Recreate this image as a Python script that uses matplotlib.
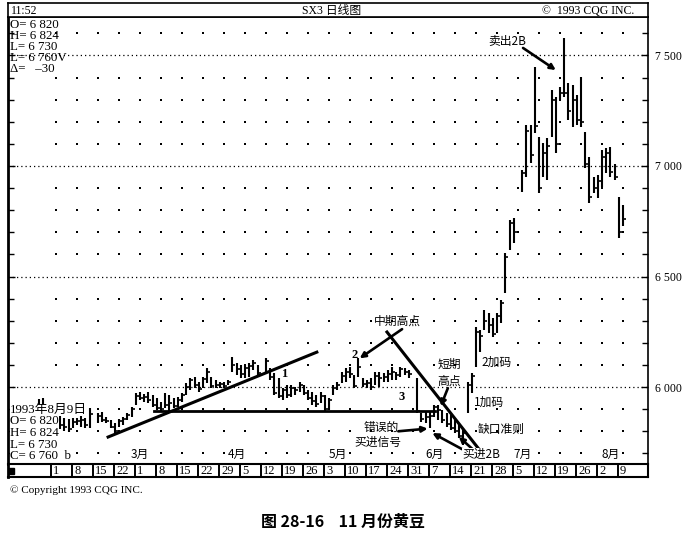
import numpy as np
import matplotlib.pyplot as plt

plt.rcParams['font.family'] = ['Liberation Serif', 'Noto Sans CJK SC']
CJK = ['Noto Sans CJK SC', 'Liberation Serif']

nan = np.nan

# daily bars, trading day index -4 .. 135 (0 = Feb 1), nan = no trading
highs = [5946, 5950, 5910, 5900, 5880, 5870, 5860, 5855, 5860, 5860,
         5882, 5860, 5905, nan, 5882, 5887, 5864, 5851, 5837, 5855,
         5864, 5882, 5910, 5973, 5977, 5968, 5977, 5964, 5950, 5932,
         5973, 5964, 5950, 5955, 5973, 6018, 6041, 6045, 6023, 6045,
         6086, 6045, 6032, 6023, 6023, 6032, 6136, 6109, 6100, 6100,
         6109, 6122, 6100, nan, 6131, 6086, 6063, 6041, 5995, 6009,
         6009, 6000, 6023, 6009, 5986, 5977, 5964, 5977, 5964, 5950,
         6009, 6023, 6068, 6086, 6091, 6054, 6131, 6041, 6032, 6041,
         6068, 6068, 6063, 6077, 6091, 6068, 6091, 6086, 6077, nan,
         6041, 5882, 5887, 5887, 5919, 5919, 5896, 5882, 5873, 5860,
         5837, 5814, 6023, 6063, 6272, 6258, 6348, 6335, 6312, 6335,
         6394, 6606, 6756, 6765, nan, 6982, 7186, 7186, 7448, 7131,
         7104, 7127, 7344, 7312, 7358, 7579, 7376, 7367, 7321, 7403,
         7154, 7041, 6950, 6959, 7072, 7081, 7086, 7009, 6860, 6824]
lows = [5870, 5880, 5860, 5840, 5820, 5810, 5800, 5796, 5814, 5828,
        5819, 5814, 5814, nan, 5837, 5842, 5837, 5814, 5792, 5819,
        5828, 5851, 5864, 5919, 5941, 5932, 5928, 5910, 5896, 5887,
        5905, 5887, 5905, 5910, 5932, 5964, 5986, 5995, 5977, 5995,
        6018, 5995, 5995, 5995, 5995, 6009, 6068, 6054, 6041, 6041,
        6045, 6077, 6054, nan, 6068, 6032, 5964, 5950, 5941, 5950,
        5955, 5964, 5977, 5964, 5941, 5919, 5910, 5928, 5887, 5896,
        5964, 5986, 6018, 6023, 6041, 5995, 6045, 6000, 5995, 5986,
        6009, 6000, 6023, 6023, 6032, 6032, 6045, 6054, 6041, nan,
        5882, 5842, 5837, 5814, 5864, 5851, 5837, 5819, 5805, 5792,
        5769, 5738, 5882, 5973, 6091, 6158, 6258, 6244, 6226, 6244,
        6290, 6425, 6620, 6652, nan, 6882, 6950, 7014, 7149, 6878,
        6950, 6937, 7131, 7059, 7299, 7312, 7208, 7177, 7186, 7177,
        6991, 6833, 6878, 6855, 6905, 6968, 6950, 6937, 6674, 6730]
closes = [5920, 5900, 5880, 5860, 5850, 5830, 5820, 5810, 5840, 5845,
          5850, 5830, 5880, nan, 5870, 5850, 5845, 5820, 5800, 5845,
          5855, 5875, 5900, 5960, 5950, 5955, 5940, 5920, 5905, 5900,
          5920, 5930, 5915, 5940, 5965, 6000, 6030, 6010, 5990, 6035,
          6070, 6005, 6010, 6015, 6005, 6025, 6100, 6080, 6060, 6085,
          6095, 6110, 6065, nan, 6120, 6045, 5975, 5960, 5985, 5965,
          5995, 5985, 6010, 5975, 5950, 5935, 5925, 5960, 5900, 5940,
          5995, 6010, 6050, 6070, 6060, 6005, 6090, 6015, 6020, 6000,
          6050, 6040, 6045, 6060, 6070, 6055, 6080, 6070, 6060, nan,
          5890, 5855, 5865, 5870, 5910, 5895, 5850, 5835, 5815, 5800,
          5780, 5790, 6010, 6050, 6250, 6230, 6300, 6280, 6240, 6320,
          6380, 6590, 6740, 6700, nan, 6970, 7160, 7050, 7180, 6900,
          7060, 7090, 7300, 7100, 7330, 7330, 7250, 7300, 7210, 7200,
          7010, 6860, 6900, 6930, 7040, 7060, 6975, 6950, 6700, 6760]
days = np.arange(-4, 136)

week_days = np.arange(0, 136, 5)
week_labels = ['1', '8', '15', '22', '1', '8', '15', '22', '29', '5', '12', '19', '26', '3',
               '10', '17', '24', '31', '7', '14', '21', '28', '5', '12', '19', '26', '2', '9']
month_days = [20, 43, 67, 90, 111, 132]
month_labels = ['3月', '4月', '5月', '6月', '7月', '8月']
price_ticks = [6000, 6500, 7000, 7500]
price_tick_labels = ['6 000', '6 500', '7 000', '7 500']
grid_levels = [p for p in range(5700, 7700, 100) if p % 500]

W, H = 683, 535
fig = plt.figure(figsize=(W / 100, H / 100), dpi=100)


def box(l, t, r, b):
    return [l / W, 1 - b / H, (r - l) / W, (b - t) / H]


def ftext(x, y, s, **kw):
    fig.text(x / W, 1 - y / H, s, va='center', **kw)


XL = (-11.43, 140.95)

# price panel
ax = fig.add_axes(box(8, 17, 648, 464))
ax.set_xlim(*XL)
ax.set_ylim(5652, 7674)
ax.vlines(days, lows, highs, color='k', lw=1.5)
ax.hlines(closes, days, days + 0.7, color='k', lw=1.2)

for v in price_ticks:
    ax.axhline(v, color='k', lw=0.9, ls=(0, (1, 2.4)), zorder=0)
for lv in grid_levels:
    ax.scatter(week_days, [lv] * len(week_days), s=1.0, c='k', marker='s', lw=0, zorder=0)

ax.set_xticks([])
ax.yaxis.tick_right()
ax.set_yticks(price_ticks, price_tick_labels)
ax.set_yticks(grid_levels, minor=True)
ax.tick_params(axis='y', which='both', direction='in', left=True, right=True,
               labelleft=False, labelright=True, width=1, labelsize=8.5, pad=5)
ax.tick_params(axis='y', which='major', length=5)
ax.tick_params(axis='y', which='minor', length=4)
for s in ax.spines.values():
    s.set_linewidth(1.2)
ax.spines['left'].set_linewidth(2)

for d, m in zip(month_days, month_labels):
    ax.text(d, 5693, m, ha='center', va='center', fontsize=8.5, family=CJK,
            bbox=dict(fc='white', ec='none', pad=0.5))

# trend lines
ax.plot([12.4, 62.1], [5774, 6158], color='k', lw=2.2)
ax.plot([23.3, 90.2], [5894, 5894], color='k', lw=2)
ax.plot([78.8, 100.5], [6249, 5724], color='k', lw=2.2)

arrow = dict(arrowstyle='-|>', lw=1.9, color='k', mutation_scale=8, shrinkA=0, shrinkB=0)
ax.annotate('', xy=(72.3, 6130), xytext=(82.4, 6262), arrowprops=arrow)
ax.annotate('', xy=(91.6, 5914), xytext=(93.3, 5995), arrowprops=arrow)
ax.annotate('', xy=(88.5, 5812), xytext=(81.5, 5800), arrowprops=arrow)
ax.annotate('', xy=(89.6, 5792), xytext=(96.7, 5719), arrowprops=arrow)
ax.annotate('', xy=(95.9, 5775), xytext=(99.2, 5719), arrowprops=arrow)
ax.annotate('', xy=(119.0, 7434), xytext=(111.2, 7534), arrowprops=arrow)

cjk = dict(ha='center', va='center', fontsize=8.5, family=CJK)
ax.text(81.2, 6299, '中期高点', **cjk)
ax.text(93.6, 6104, '短期', **cjk)
ax.text(93.6, 6027, '高点', **cjk)
ax.text(77.4, 5819, '错误的', **cjk)
ax.text(76.7, 5751, '买进信号', **cjk)
ax.text(101.2, 5693, '买进2B', bbox=dict(fc='white', ec='none', pad=0.3), **cjk)
ax.text(105.0, 6113, '2加码', **cjk)
ax.text(103.1, 5932, '1加码', **cjk)
ax.text(106.0, 5810, '缺口准则', **cjk)
ax.text(107.4, 7561, '卖出2B', **cjk)
num = dict(ha='center', va='center', fontsize=9, fontweight='bold')
ax.text(71.2, 6145, '2', **num)
ax.text(54.3, 6059, '1', **num)
ax.text(82.4, 5955, '3', **num)

# title bar
tax = fig.add_axes(box(8, 3, 648, 17))
tax.set_xticks([])
tax.set_yticks([])
for s in tax.spines.values():
    s.set_linewidth(1.2)
tax.text(0.004, 0.45, '11:52', va='center', fontsize=8.5)
tax.text(0.506, 0.45, 'SX3 日线图', ha='center', va='center', fontsize=8.5)
tax.text(0.834, 0.45, '©  1993 CQG INC.', va='center', fontsize=8.5)

# date row
dax = fig.add_axes(box(8, 464, 648, 477))
dax.set_xlim(*XL)
dax.set_ylim(0, 1)
dax.set_xticks([])
dax.set_yticks([])
for s in dax.spines.values():
    s.set_linewidth(1.5)
dax.spines['left'].set_linewidth(2)
for w, lab in zip(week_days, week_labels):
    dax.axvline(w - 1.2, color='k', lw=1.4)
    dax.text(w - 0.7, 0.45, lab, va='center', fontsize=9)
dax.plot([-10.6], [0.5], 's', ms=4.5, color='k')

# quote boxes
for y, s in zip([25, 36, 47, 58, 69], ['O= 6 820', 'H= 6 824', 'L= 6 730', 'L= 6 760V', 'Δ=   –30']):
    ftext(10, y, s, fontsize=9.3)
for y, s in zip([410, 421, 433, 445, 456], ['1993年8月9日', 'O= 6 820', 'H= 6 824', 'L= 6 730', 'C= 6 760  b']):
    ftext(10, y, s, fontsize=9.3, bbox=dict(fc='white', ec='none', pad=0.3), zorder=5)

ftext(10, 490, '© Copyright 1993 CQG INC.', fontsize=8)
ftext(343, 522, '图 28-16    11 月份黄豆', ha='center', fontsize=11.5, family=CJK, fontweight='bold')

fig.savefig('out.png', dpi=100)
